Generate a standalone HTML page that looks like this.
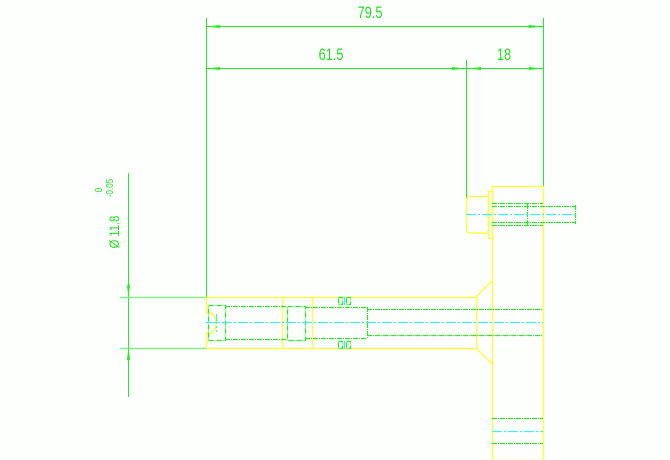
<!DOCTYPE html>
<html><head><style>
html,body{margin:0;padding:0;background:#fdfffd;}
svg{display:block;}
text{font-family:"Liberation Sans",sans-serif;fill:#22dd22;}
</style></head><body>
<svg width="670" height="460" viewBox="0 0 670 460" xmlns="http://www.w3.org/2000/svg">
<rect width="670" height="460" fill="#fdfffd"/>
<g stroke="#22ee22" stroke-width="1" fill="none">
  <line x1="206.5" y1="18" x2="206.5" y2="297"/>
  <line x1="543.5" y1="18" x2="543.5" y2="186"/>
  <line x1="466.5" y1="60" x2="466.5" y2="200"/>
  <line x1="206" y1="26.5" x2="543" y2="26.5"/>
  <line x1="206" y1="68.5" x2="543" y2="68.5"/>
  <line x1="128.5" y1="173" x2="128.5" y2="397"/>
  <line x1="120" y1="297.5" x2="206" y2="297.5" stroke="#88ee88" stroke-width="1.5"/>
  <line x1="120" y1="348.5" x2="206" y2="348.5" stroke="#88ee88" stroke-width="1.5"/>
</g>
<g fill="#22ee22">
  <polygon points="207,26.5 220,25 220,28"/>
  <polygon points="542,26.5 529,25 529,28"/>
  <polygon points="207,68.5 220,67 220,70"/>
  <polygon points="465,68.5 452,67 452,70"/>
  <polygon points="468,68.5 481,67 481,70"/>
  <polygon points="542,68.5 529,67 529,70"/>
  <polygon points="128.5,298 127,285 130,285"/>
  <polygon points="128.5,347 127,360 130,360"/>
</g>
<text transform="translate(370,18) scale(0.75,1)" font-size="17" text-anchor="middle">79.5</text>
<text transform="translate(331,60) scale(0.75,1)" font-size="17" text-anchor="middle">61.5</text>
<text transform="translate(504,60) scale(0.75,1)" font-size="17" text-anchor="middle">18</text>
<text transform="translate(119,232) rotate(-90) scale(0.8,1)" font-size="14" text-anchor="middle">Ø 11.8</text>
<text transform="translate(102,190) rotate(-90) scale(0.8,1)" font-size="10" text-anchor="middle">0</text>
<text transform="translate(113,188) rotate(-90) scale(0.8,1)" font-size="10" text-anchor="middle">-0.05</text>

<g stroke="#ffff33" stroke-width="1.3" fill="none">
  <line x1="206" y1="297.5" x2="476" y2="297.5"/>
  <line x1="206" y1="348.5" x2="476" y2="348.5"/>
  <path d="M206.5,297 V313 H212 Q220,323 212,333 H206.5 V348"/>
  <line x1="282.5" y1="297" x2="282.5" y2="348"/>
  <line x1="312.5" y1="297" x2="312.5" y2="348"/>
  <line x1="476.5" y1="297" x2="476.5" y2="348"/>
  <line x1="476" y1="297" x2="492" y2="281"/>
  <line x1="476" y1="348" x2="492" y2="364"/>
  <rect x="492.5" y="186.5" width="51" height="274"/>
  <rect x="488.5" y="191.5" width="4" height="47"/>
  <path d="M466.5,200 V229 Q466.5,233 470,233 H488.5 V196.5 H470 Q466.5,196.5 466.5,200"/>
</g>
<g stroke="#33e033" stroke-width="1.3" fill="none" stroke-dasharray="5,1,1,1">
  <rect x="208.5" y="305.5" width="17" height="35"/>
  <line x1="225" y1="306.5" x2="287" y2="306.5"/>
  <line x1="225" y1="339.5" x2="287" y2="339.5"/>
  <rect x="287.5" y="306.5" width="18" height="34"/>
  <line x1="305" y1="307.5" x2="367" y2="307.5"/>
  <line x1="305" y1="338.5" x2="367" y2="338.5"/>
  <line x1="367.5" y1="307" x2="367.5" y2="339"/>
  <line x1="367" y1="309.5" x2="543" y2="309.5"/>
  <line x1="367" y1="335.5" x2="543" y2="335.5"/>
  <rect x="338.5" y="297.5" width="4" height="7"/>
  <rect x="346.5" y="297.5" width="4" height="7"/>
  <rect x="338.5" y="341.5" width="4" height="7"/>
  <rect x="346.5" y="341.5" width="4" height="7"/>
  <line x1="492" y1="203.5" x2="543" y2="203.5"/>
  <line x1="492" y1="225.5" x2="543" y2="225.5"/>
  <line x1="492" y1="206.5" x2="575" y2="206.5"/>
  <line x1="492" y1="222.5" x2="575" y2="222.5"/>
  <line x1="527.5" y1="204" x2="527.5" y2="225"/>
  <line x1="575.5" y1="205" x2="575.5" y2="224"/>
  <line x1="492" y1="418.5" x2="543" y2="418.5"/>
  <line x1="492" y1="443.5" x2="543" y2="443.5"/>
</g>
<g stroke="#44eeee" stroke-width="1.2" fill="none" stroke-dasharray="10,2,2,2">
  <line x1="206" y1="322.5" x2="543" y2="322.5"/>
  <line x1="466" y1="214.5" x2="578" y2="214.5"/>
  <line x1="492" y1="431.5" x2="543" y2="431.5"/>
  <line x1="216.5" y1="314" x2="216.5" y2="332"/>
  <line x1="344.5" y1="297" x2="344.5" y2="305"/>
  <line x1="344.5" y1="341" x2="344.5" y2="349"/>
</g>
</svg>
</body></html>
